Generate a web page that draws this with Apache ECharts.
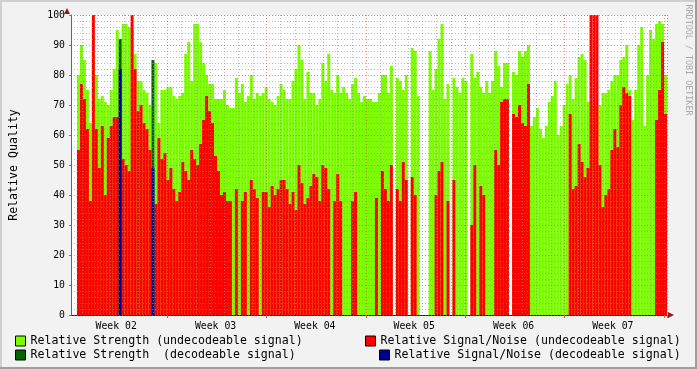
<!DOCTYPE html>
<html><head><meta charset="utf-8">
<script src="https://cdn.jsdelivr.net/npm/echarts@6/dist/echarts.min.js"></script>
<style>html,body{margin:0;padding:0;background:#f2f2f2}#c{width:697px;height:369px}</style>
</head><body><div id="c"></div>
<script>
// ---- data (one bin = 3 px of the original RRD plot, ~5 h) ----
const weekLabels = ['Week 02', 'Week 03', 'Week 04', 'Week 05', 'Week 06', 'Week 07'];
const yTickValues = [0, 10, 20, 30, 40, 50, 60, 70, 80, 90, 100];

const strengthUndec = [
 null,null,80,90,85,75,64,87,80,72,
 73,71,70,75,82,95,null,97,97,96,
 95,87,78,78,75,74,70,null,84,64,
 75,75,76,76,73,72,73,74,87,91,
 78,97,97,91,84,80,77,77,72,72,
 72,75,70,69,69,79,74,77,71,73,
 80,72,74,73,74,76,72,71,70,73,
 77,75,72,72,78,82,90,85,72,81,
 74,74,70,72,84,78,87,75,74,80,
 74,76,74,72,77,79,74,71,73,72,
 72,71,71,74,80,80,74,83,null,79,
 78,75,80,null,89,88,73,null,null,null,
 88,75,82,92,97,72,77,null,79,76,
 74,79,78,null,87,79,81,76,74,78,
 74,78,88,83,76,84,84,null,81,80,
 88,86,88,90,63,66,69,62,59,63,
 71,73,78,60,63,70,77,80,72,79,
 86,87,85,71,70,70,70,70,74,74,
 75,78,80,80,85,86,90,75,65,75,
 90,96,63,80,95,92,97,98,97,80
];
const snrUndec = [
 null,null,55,77,72,62,38,100,62,49,
 63,40,59,63,66,66,null,52,50,48,
 100,82,68,70,64,62,55,null,37,59,
 52,54,45,49,42,38,41,51,48,45,
 55,52,50,57,65,73,68,64,53,48,
 40,41,38,38,0,42,0,38,41,0,
 45,42,39,0,41,41,36,43,40,42,
 45,45,42,37,41,35,50,44,37,39,
 43,47,46,38,50,49,42,0,38,47,
 38,0,0,0,38,41,0,0,0,0,
 0,0,39,0,48,42,38,50,null,42,
 38,51,45,null,46,40,0,null,null,null,
 0,0,40,48,51,0,38,null,45,0,
 0,0,0,null,30,50,0,43,40,0,
 0,0,55,50,71,72,72,null,67,66,
 70,64,63,77,0,0,0,0,0,0,
 0,0,0,0,0,0,0,67,42,43,
 57,51,46,49,100,100,100,50,36,40,
 42,55,62,56,70,76,74,73,0,0,
 0,0,0,0,0,0,65,75,91,67
];
const decodeableBins = [16, 27];
const strengthDecValues = [92, 85];
const snrDecValues = [82, 49];

// ---- build ----
const NB = strengthUndec.length;
const strengthDec = new Array(NB).fill(null);
const snrDec = new Array(NB).fill(null);
decodeableBins.forEach((b, k) => { strengthDec[b] = strengthDecValues[k]; snrDec[b] = snrDecValues[k]; });
const binCats = Array.from({length: NB}, (_, i) => String(i));

const NPX = 600;           // one category per plot pixel, used for the time grid
const PX_OFF = 3;          // plot starts 3 px after the week-02 boundary
const DAY_PX = 100 / 7;
const dayIdx = new Set(), weekIdx = new Set();
for (let j = 1; j <= 42; j++) {
  const i = Math.round(j * DAY_PX - PX_OFF);
  if (j % 7 === 0) weekIdx.add(i); else dayIdx.add(i);
}
const pxCats = new Array(NPX).fill('');
weekLabels.forEach((w, k) => { pxCats[45 + 100 * k] = w; });
const yMinorCats = Array.from({length: 50}, (_, i) => String(i * 2));

const FONT = 'DejaVu Sans Mono';
const GRID_C = 'rgba(143,143,143,0.6)';
const MGRID_C = 'rgba(222,79,79,0.6)';

const names = ['Relative Strength (undecodeable signal)', 'Relative Signal/Noise (undecodeable signal)',
               'Relative Strength  (decodeable signal)', 'Relative Signal/Noise (decodeable signal)'];
const colors = ['#7cfc00', '#ff0000', '#006400', '#000090'];
const dataSets = [strengthUndec, snrUndec, strengthDec, snrDec];

function mkLegend(idx, left, top) {
  return {
    data: [names[idx]], left: left, top: top, orient: 'horizontal', selectedMode: false,
    icon: 'rect', itemWidth: 10, itemHeight: 10, itemGap: 0, padding: 0,
    itemStyle: {borderColor: '#000', borderWidth: 1},
    textStyle: {fontFamily: FONT, fontSize: 11.6, color: '#000', padding: [0, 0, 0, 0]}
  };
}

const chart = echarts.init(document.getElementById('c'), null, {renderer: 'canvas'});
chart.setOption({
  animation: false,
  backgroundColor: '#f2f2f2',
  grid: {left: 67, right: 30, top: 15, bottom: 54, show: true, backgroundColor: '#ffffff', borderWidth: 0},
  xAxis: [
    {type: 'category', data: binCats, show: false, position: 'bottom', boundaryGap: true},
    {type: 'category', data: pxCats, position: 'bottom', boundaryGap: true, z: 10,
     axisLine: {show: true, lineStyle: {color: '#1f1f1f', width: 1}},
     axisTick: {show: false},
     axisLabel: {interval: 0, margin: 6, fontFamily: FONT, fontSize: 9.8, color: '#000'},
     splitLine: {show: true, interval: (i) => dayIdx.has(i), lineStyle: {color: GRID_C, type: [1, 2], width: 1}}},
    {type: 'category', data: pxCats.map(() => ''), position: 'bottom', boundaryGap: true, z: 11,
     axisLine: {show: false}, axisLabel: {show: false},
     axisTick: {show: true, interval: (i) => weekIdx.has(i), length: 3, lineStyle: {color: '#de4f4f'}},
     splitLine: {show: true, interval: (i) => weekIdx.has(i), lineStyle: {color: MGRID_C, type: [1, 2], width: 1}}}
  ],
  yAxis: [
    {type: 'value', min: yTickValues[0], max: yTickValues[yTickValues.length - 1], interval: 10, position: 'left', z: 11,
     name: 'Relative Quality', nameLocation: 'middle', nameRotate: 90, nameGap: 51,
     nameTextStyle: {fontFamily: FONT, fontSize: 11.6, color: '#000'},
     axisLine: {show: true, lineStyle: {color: '#666', width: 1}},
     axisTick: {show: true, length: 2, lineStyle: {color: '#de4f4f'}},
     axisLabel: {margin: 6, fontFamily: FONT, fontSize: 9.8, color: '#000'},
     splitLine: {show: true, lineStyle: {color: MGRID_C, type: [1, 2], width: 1}}},
    {type: 'category', data: yMinorCats, position: 'left', boundaryGap: true, z: 10,
     axisLine: {show: false}, axisLabel: {show: false}, axisTick: {show: false},
     splitLine: {show: true, interval: (i) => i % 5 !== 0, lineStyle: {color: GRID_C, type: [1, 2], width: 1}}}
  ],
  legend: [mkLegend(0, 15, 335), mkLegend(1, 365, 335), mkLegend(2, 15, 349), mkLegend(3, 379, 349)],
  series: dataSets.map((d, k) => ({
    name: names[k], type: 'bar', data: d, xAxisIndex: 0, yAxisIndex: 0,
    barCategoryGap: '0%', barGap: '-100%', itemStyle: {color: colors[k]}, z: 2, silent: true
  })),
  graphic: [
    {type: 'rect', shape: {x: 0, y: 0, width: 697, height: 2}, style: {fill: '#cfcfcf'}, silent: true},
    {type: 'rect', shape: {x: 0, y: 0, width: 2, height: 369}, style: {fill: '#cfcfcf'}, silent: true},
    {type: 'rect', shape: {x: 0, y: 367, width: 697, height: 2}, style: {fill: '#9e9e9e'}, silent: true},
    {type: 'rect', shape: {x: 695, y: 0, width: 2, height: 369}, style: {fill: '#9e9e9e'}, silent: true},
    {type: 'polygon', shape: {points: [[64, 14], [70, 14], [67, 8]]}, style: {fill: '#801f1f'}, z: 20, silent: true},
    {type: 'polygon', shape: {points: [[668, 312], [668, 318], [674, 315]]}, style: {fill: '#801f1f'}, z: 20, silent: true},
    {type: 'text', x: 688, y: 60, rotation: -Math.PI / 2, silent: true,
     style: {text: 'RRDTOOL / TOBI OETIKER', fontFamily: FONT, fontSize: 8.4, fill: '#a8a8a8', align: 'center', verticalAlign: 'middle'}}
  ]
});
</script></body></html>
